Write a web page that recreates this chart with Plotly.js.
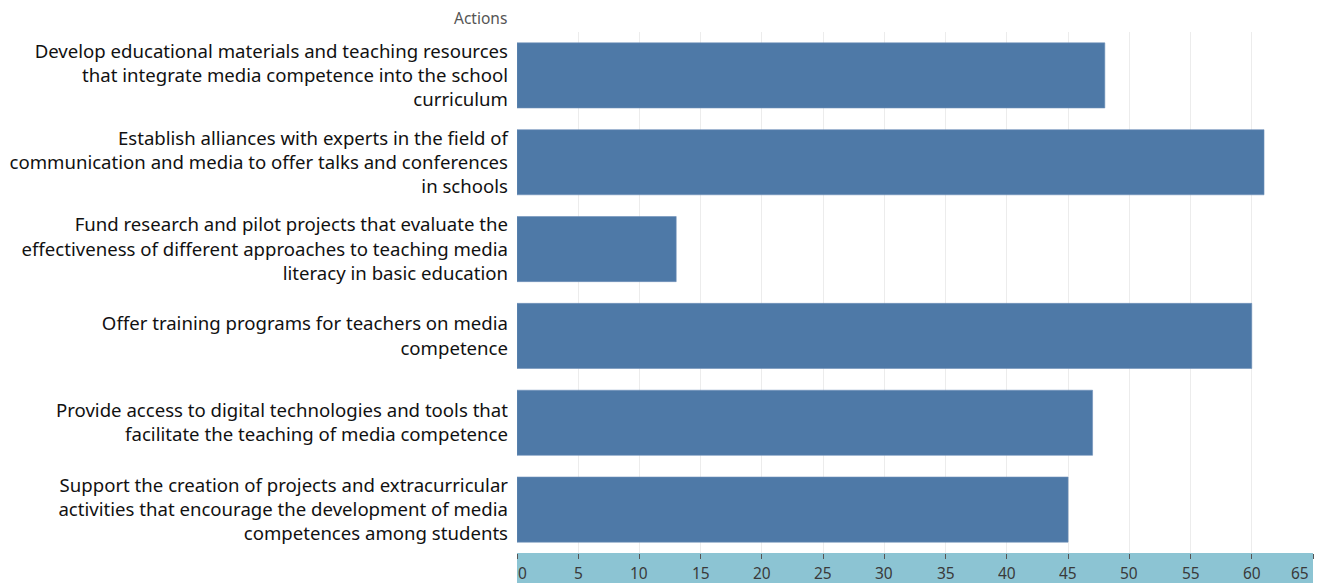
<!DOCTYPE html>
<html>
<head>
<meta charset="utf-8">
<script src="https://cdn.plot.ly/plotly-3.0.1.min.js"></script>
<style>html,body{margin:0;padding:0;background:#fff;}#chart{width:1321px;height:583px;}</style>
</head>
<body>
<div id="chart"></div>
<script>
const actions = [
  "Develop educational materials and teaching resources<br>that integrate media competence into the school<br>curriculum",
  "Establish alliances with experts in the field of<br>communication and media to offer talks and conferences<br>in schools",
  "Fund research and pilot projects that evaluate the<br>effectiveness of different approaches to teaching media<br>literacy in basic education",
  "Offer training programs for teachers on media<br>competence",
  "Provide access to digital technologies and tools that<br>facilitate the teaching of media competence",
  "Support the creation of projects and extracurricular<br>activities that encourage the development of media<br>competences among students"
];
const counts = [48, 61, 13, 60, 47, 45];
const xTicks = [0, 5, 10, 15, 20, 25, 30, 35, 40, 45, 50, 55, 60, 65];
const headerText = "Actions";

const trace = {
  type: 'bar',
  orientation: 'h',
  x: counts,
  y: actions,
  marker: {color: '#4e79a7', line: {color: '#6f90b8', width: 0.6}},
  hoverinfo: 'x+y'
};

const H = 583, T = 32, B = 30;
const plotH = H - T - B;

// tick labels drawn as annotations on the x scale so the end labels can sit inside the band
const tickAnns = xTicks.map((v, i) => {
  const first = i === 0, last = i === xTicks.length - 1;
  return {
    text: String(v), xref: 'x', yref: 'paper', x: v, y: -19 / plotH,
    xanchor: first ? 'left' : (last ? 'right' : 'center'),
    xshift: first ? 0 : (last ? -3 : 0),
    yanchor: 'middle', showarrow: false, borderpad: 0, height: 17,
    font: {size: 15.5, color: '#3a3a3a', family: 'Noto Sans, sans-serif'}
  };
});

const layout = {
  width: 1321, height: 583,
  margin: {l: 517, r: 8, t: T, b: B, pad: 0},
  paper_bgcolor: '#ffffff',
  plot_bgcolor: '#ffffff',
  bargap: 0.25,
  showlegend: false,
  font: {family: 'Noto Sans, Open Sans, sans-serif', color: '#111'},
  xaxis: {
    range: [0, 65],
    tickvals: xTicks,
    showticklabels: false,
    showgrid: true,
    gridcolor: '#ececec',
    gridwidth: 1,
    zeroline: false,
    showline: false,
    ticks: 'outside',
    ticklen: 5,
    tickwidth: 1,
    tickcolor: '#555',
    fixedrange: true
  },
  yaxis: {
    autorange: 'reversed',
    showgrid: false,
    zeroline: false,
    showline: false,
    ticks: '',
    ticklabelstandoff: 8,
    tickfont: {size: 18.6, color: '#111', family: 'Noto Sans, sans-serif'},
    fixedrange: true
  },
  shapes: [{
    type: 'rect', xref: 'paper', yref: 'paper', layer: 'below',
    x0: 0, x1: 1, y0: 0, y1: -B / plotH,
    fillcolor: '#8cc4d3', line: {width: 0}
  }],
  annotations: [{
    text: headerText, xref: 'paper', yref: 'paper', x: 0, y: 1,
    xanchor: 'right', yanchor: 'bottom', xshift: -8, yshift: 1,
    showarrow: false, font: {size: 15.5, color: '#555', family: 'Noto Sans, sans-serif'}
  }].concat(tickAnns)
};

Plotly.newPlot('chart', [trace], layout, {displayModeBar: false, staticPlot: true});
</script>
</body>
</html>
